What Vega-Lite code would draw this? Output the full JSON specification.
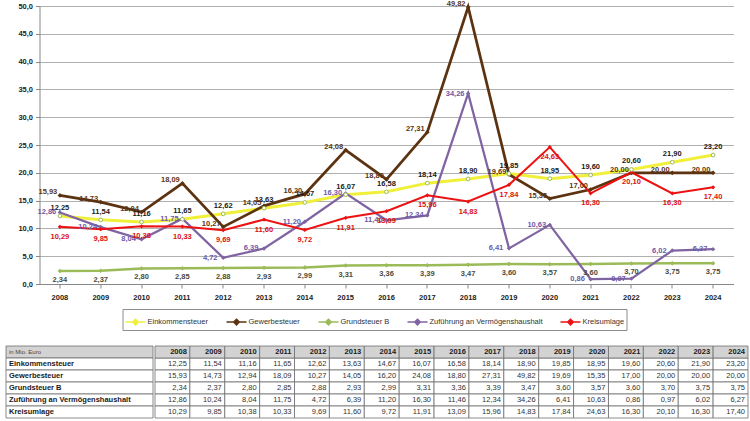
{
  "$schema": "https://vega.github.io/schema/vega-lite/v6.json",
  "padding": {"left": 5, "right": 5, "top": 0, "bottom": 2},
  "datasets": {
    "vals": [
      {"year":"2008","series":"Einkommensteuer","value":12.25},{"year":"2009","series":"Einkommensteuer","value":11.54},{"year":"2010","series":"Einkommensteuer","value":11.16},{"year":"2011","series":"Einkommensteuer","value":11.65},{"year":"2012","series":"Einkommensteuer","value":12.62},{"year":"2013","series":"Einkommensteuer","value":13.63},{"year":"2014","series":"Einkommensteuer","value":14.67},{"year":"2015","series":"Einkommensteuer","value":16.07},{"year":"2016","series":"Einkommensteuer","value":16.58},{"year":"2017","series":"Einkommensteuer","value":18.14},{"year":"2018","series":"Einkommensteuer","value":18.90},{"year":"2019","series":"Einkommensteuer","value":19.85},{"year":"2020","series":"Einkommensteuer","value":18.95},{"year":"2021","series":"Einkommensteuer","value":19.60},{"year":"2022","series":"Einkommensteuer","value":20.60},{"year":"2023","series":"Einkommensteuer","value":21.90},{"year":"2024","series":"Einkommensteuer","value":23.20},
      {"year":"2008","series":"Gewerbesteuer","value":15.93},{"year":"2009","series":"Gewerbesteuer","value":14.73},{"year":"2010","series":"Gewerbesteuer","value":12.94},{"year":"2011","series":"Gewerbesteuer","value":18.09},{"year":"2012","series":"Gewerbesteuer","value":10.27},{"year":"2013","series":"Gewerbesteuer","value":14.05},{"year":"2014","series":"Gewerbesteuer","value":16.20},{"year":"2015","series":"Gewerbesteuer","value":24.08},{"year":"2016","series":"Gewerbesteuer","value":18.80},{"year":"2017","series":"Gewerbesteuer","value":27.31},{"year":"2018","series":"Gewerbesteuer","value":49.82},{"year":"2019","series":"Gewerbesteuer","value":19.69},{"year":"2020","series":"Gewerbesteuer","value":15.35},{"year":"2021","series":"Gewerbesteuer","value":17.00},{"year":"2022","series":"Gewerbesteuer","value":20.00},{"year":"2023","series":"Gewerbesteuer","value":20.00},{"year":"2024","series":"Gewerbesteuer","value":20.00},
      {"year":"2008","series":"Grundsteuer B","value":2.34},{"year":"2009","series":"Grundsteuer B","value":2.37},{"year":"2010","series":"Grundsteuer B","value":2.80},{"year":"2011","series":"Grundsteuer B","value":2.85},{"year":"2012","series":"Grundsteuer B","value":2.88},{"year":"2013","series":"Grundsteuer B","value":2.93},{"year":"2014","series":"Grundsteuer B","value":2.99},{"year":"2015","series":"Grundsteuer B","value":3.31},{"year":"2016","series":"Grundsteuer B","value":3.36},{"year":"2017","series":"Grundsteuer B","value":3.39},{"year":"2018","series":"Grundsteuer B","value":3.47},{"year":"2019","series":"Grundsteuer B","value":3.60},{"year":"2020","series":"Grundsteuer B","value":3.57},{"year":"2021","series":"Grundsteuer B","value":3.60},{"year":"2022","series":"Grundsteuer B","value":3.70},{"year":"2023","series":"Grundsteuer B","value":3.75},{"year":"2024","series":"Grundsteuer B","value":3.75},
      {"year":"2008","series":"Zuführung an Vermögenshaushalt","value":12.86},{"year":"2009","series":"Zuführung an Vermögenshaushalt","value":10.24},{"year":"2010","series":"Zuführung an Vermögenshaushalt","value":8.04},{"year":"2011","series":"Zuführung an Vermögenshaushalt","value":11.75},{"year":"2012","series":"Zuführung an Vermögenshaushalt","value":4.72},{"year":"2013","series":"Zuführung an Vermögenshaushalt","value":6.39},{"year":"2014","series":"Zuführung an Vermögenshaushalt","value":11.20},{"year":"2015","series":"Zuführung an Vermögenshaushalt","value":16.30},{"year":"2016","series":"Zuführung an Vermögenshaushalt","value":11.46},{"year":"2017","series":"Zuführung an Vermögenshaushalt","value":12.34},{"year":"2018","series":"Zuführung an Vermögenshaushalt","value":34.26},{"year":"2019","series":"Zuführung an Vermögenshaushalt","value":6.41},{"year":"2020","series":"Zuführung an Vermögenshaushalt","value":10.63},{"year":"2021","series":"Zuführung an Vermögenshaushalt","value":0.86},{"year":"2022","series":"Zuführung an Vermögenshaushalt","value":0.97},{"year":"2023","series":"Zuführung an Vermögenshaushalt","value":6.02},{"year":"2024","series":"Zuführung an Vermögenshaushalt","value":6.27},
      {"year":"2008","series":"Kreisumlage","value":10.29},{"year":"2009","series":"Kreisumlage","value":9.85},{"year":"2010","series":"Kreisumlage","value":10.38},{"year":"2011","series":"Kreisumlage","value":10.33},{"year":"2012","series":"Kreisumlage","value":9.69},{"year":"2013","series":"Kreisumlage","value":11.60},{"year":"2014","series":"Kreisumlage","value":9.72},{"year":"2015","series":"Kreisumlage","value":11.91},{"year":"2016","series":"Kreisumlage","value":13.09},{"year":"2017","series":"Kreisumlage","value":15.96},{"year":"2018","series":"Kreisumlage","value":14.83},{"year":"2019","series":"Kreisumlage","value":17.84},{"year":"2020","series":"Kreisumlage","value":24.63},{"year":"2021","series":"Kreisumlage","value":16.30},{"year":"2022","series":"Kreisumlage","value":20.10},{"year":"2023","series":"Kreisumlage","value":16.30},{"year":"2024","series":"Kreisumlage","value":17.40}
    ],
    "rows": [
      {"row":"in Mio. Euro"},{"row":"Einkommensteuer"},{"row":"Gewerbesteuer"},{"row":"Grundsteuer B"},{"row":"Zuführung an Vermögenshaushalt"},{"row":"Kreisumlage"}
    ]
  },
  "center": true,
  "spacing": 14,
  "resolve": {"scale": {"x": "independent", "y": "independent", "color": "independent"}, "legend": {"color": "independent"}},
  "vconcat": [
    {
      "width": 694,
      "height": 278,
      "data": {"name": "vals"},
      "encoding": {
        "x": {"field": "year", "type": "ordinal", "scale": {"type": "band", "paddingInner": 0, "paddingOuter": 0},
          "axis": {"title": null, "labelAngle": 0, "labelFontWeight": "bold", "labelFontSize": 7.5, "labelColor": "#222", "tickSize": 4, "tickColor": "#888", "domainColor": "#888", "labelPadding": 5, "grid": false}},
        "y": {"field": "value", "type": "quantitative", "scale": {"domain": [0, 50]},
          "axis": {"title": null, "values": [0,5,10,15,20,25,30,35,40,45,50], "format": ".1f", "labelFontWeight": "bold", "labelFontSize": 7.5, "labelColor": "#222", "gridColor": "#b0b0b0", "domainColor": "#888", "tickColor": "#888", "tickSize": 4, "labelPadding": 3, "minExtent": 33}}
      },
      "layer": [
        {"mark": {"type": "line"},
         "encoding": {
           "color": {"field": "series", "type": "nominal",
             "scale": {"domain": ["Einkommensteuer","Gewerbesteuer","Grundsteuer B","Zuführung an Vermögenshaushalt","Kreisumlage"], "range": ["#f0f03a","#5c3311","#9bbb59","#8064a2","#ee1111"]},
             "legend": {"orient": "none", "legendX": 83, "legendY": 303, "direction": "horizontal", "columns": 5, "title": null, "strokeColor": "#8c8c8c", "padding": 2, "symbolType": "M-1,0L1,0M0,-0.28L0.28,0L0,0.28L-0.28,0Z", "symbolSize": 400, "symbolStrokeWidth": 1.5, "labelFontSize": 7.5, "labelColor": "#333", "labelOffset": 1, "columnPadding": 15, "rowPadding": 0,
               "encode": {"symbols": {"update": {"fill": {"scale": "color", "field": "value"}}}}}},
           "strokeWidth": {"field": "series", "type": "nominal", "scale": {"domain": ["Einkommensteuer","Gewerbesteuer","Grundsteuer B","Zuführung an Vermögenshaushalt","Kreisumlage"], "range": [3, 2, 2, 2, 2]}, "legend": null}
         }},
        {"transform": [{"filter": "datum.series !== 'Einkommensteuer'"}],
         "mark": {"type": "point", "filled": true, "shape": "diamond", "opacity": 1},
         "encoding": {
           "color": {"field": "series", "type": "nominal", "legend": null},
           "size": {"field": "series", "type": "nominal", "scale": {"domain": ["Gewerbesteuer","Grundsteuer B","Zuführung an Vermögenshaushalt","Kreisumlage"], "range": [22, 18, 22, 45]}, "legend": null}
         }},
        {"transform": [{"filter": "datum.series === 'Einkommensteuer'"}],
         "mark": {"type": "point", "shape": "circle", "filled": false, "stroke": "#9bbb59", "fill": "white", "size": 14, "strokeWidth": 1, "opacity": 1}},
        {"transform": [{"filter": "datum.series === 'Einkommensteuer'"}],
         "mark": {"type": "text", "fontSize": 7.5, "fontWeight": "bold", "color": "#1a1a1a", "dy": -8},
         "encoding": {"text": {"field": "value", "type": "quantitative", "format": ".2f"}}},
        {"transform": [{"filter": "datum.series === 'Gewerbesteuer'"}],
         "mark": {"type": "text", "fontSize": 7.5, "fontWeight": "bold", "color": "#5a3614", "dy": -3, "dx": -12},
         "encoding": {"text": {"field": "value", "type": "quantitative", "format": ".2f"}}},
        {"transform": [{"filter": "datum.series === 'Grundsteuer B'"}],
         "mark": {"type": "text", "fontSize": 7.5, "fontWeight": "bold", "color": "#4b4b3c", "dy": 9},
         "encoding": {"text": {"field": "value", "type": "quantitative", "format": ".2f"}}},
        {"transform": [{"filter": "datum.series === 'Zuführung an Vermögenshaushalt'"}],
         "mark": {"type": "text", "fontSize": 7.5, "fontWeight": "bold", "color": "#6d5aa8", "dx": -13, "dy": 0},
         "encoding": {"text": {"field": "value", "type": "quantitative", "format": ".2f"}}},
        {"transform": [{"filter": "datum.series === 'Kreisumlage'"}],
         "mark": {"type": "text", "fontSize": 7.5, "fontWeight": "bold", "color": "#dd1111", "dy": 10},
         "encoding": {"text": {"field": "value", "type": "quantitative", "format": ".2f"}}}
      ]
    },
    {
      "spacing": 0,
      "resolve": {"scale": {"x": "independent", "y": "independent"}},
      "hconcat": [
        {
          "width": 147,
          "height": 72,
          "data": {"name": "rows"},
          "encoding": {
            "y": {"field": "row", "type": "nominal", "scale": {"domain": ["in Mio. Euro","Einkommensteuer","Gewerbesteuer","Grundsteuer B","Zuführung an Vermögenshaushalt","Kreisumlage"], "paddingInner": 0, "paddingOuter": 0}, "axis": null}
          },
          "layer": [
            {"mark": {"type": "rect", "stroke": "#6e6e6e", "strokeWidth": 0.8},
             "encoding": {
               "x": {"datum": 0, "type": "quantitative", "scale": {"domain": [0, 1]}, "axis": null},
               "x2": {"datum": 1},
               "fill": {"condition": {"test": "datum.row === 'in Mio. Euro'", "value": "#d3d3d3"}, "value": "#ffffff"}
             }},
            {"transform": [{"filter": "datum.row === 'in Mio. Euro'"}],
             "mark": {"type": "text", "align": "left", "fontSize": 6, "color": "#444", "dx": 3},
             "encoding": {"x": {"datum": 0, "type": "quantitative"}, "text": {"field": "row"}}},
            {"transform": [{"filter": "datum.row !== 'in Mio. Euro'"}],
             "mark": {"type": "text", "align": "left", "fontSize": 7.5, "fontWeight": "bold", "color": "#1a1a1a", "dx": 3},
             "encoding": {"x": {"datum": 0, "type": "quantitative"}, "text": {"field": "row"}}}
          ]
        },
        {
          "width": 593,
          "height": 72,
          "data": {"name": "vals"},
          "encoding": {
            "x": {"field": "year", "type": "ordinal", "scale": {"type": "band", "paddingInner": 0, "paddingOuter": 0}, "axis": null},
            "y": {"field": "series", "type": "nominal", "scale": {"domain": ["in Mio. Euro","Einkommensteuer","Gewerbesteuer","Grundsteuer B","Zuführung an Vermögenshaushalt","Kreisumlage"], "paddingInner": 0, "paddingOuter": 0}, "axis": null}
          },
          "layer": [
            {"mark": {"type": "rect", "fill": "#ffffff", "stroke": "#6e6e6e", "strokeWidth": 0.8}},
            {"transform": [{"filter": "datum.series === 'Einkommensteuer'"}],
             "mark": {"type": "rect", "fill": "#d3d3d3", "stroke": "#6e6e6e", "strokeWidth": 0.8},
             "encoding": {"y": {"datum": "in Mio. Euro", "type": "nominal"}}},
            {"transform": [{"filter": "datum.series === 'Einkommensteuer'"}],
             "mark": {"type": "text", "align": "right", "dx": -3, "fontSize": 7.5, "fontWeight": "bold", "color": "#1a1a1a"},
             "encoding": {"x": {"field": "year", "type": "ordinal", "bandPosition": 1}, "y": {"datum": "in Mio. Euro", "type": "nominal"}, "text": {"field": "year"}}},
            {"mark": {"type": "text", "align": "right", "dx": -3, "fontSize": 7.5, "color": "#333"},
             "encoding": {"x": {"field": "year", "type": "ordinal", "bandPosition": 1}, "text": {"field": "value", "type": "quantitative", "format": ".2f"}}}
          ]
        },
        {
          "width": 18,
          "height": 72,
          "data": {"name": "rows"},
          "mark": {"type": "rect", "opacity": 0},
          "encoding": {
            "y": {"field": "row", "type": "nominal", "axis": null}
          }
        }
      ]
    }
  ],
  "config": {
    "font": "Liberation Sans",
    "locale": {"number": {"decimal": ",", "thousands": ".", "grouping": [3], "currency": ["", " €"]}},
    "view": {"stroke": null}
  }
}
